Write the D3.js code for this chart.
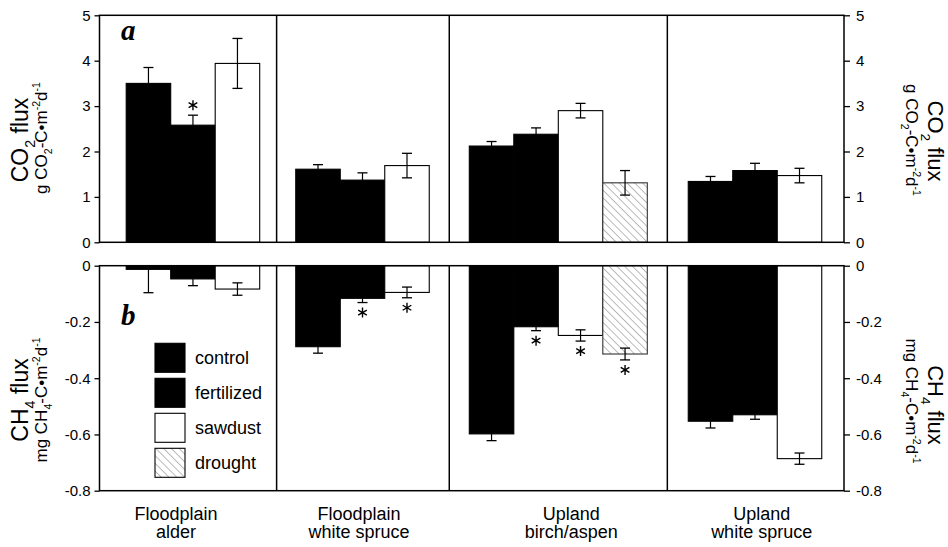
<!DOCTYPE html>
<html>
<head>
<meta charset="utf-8">
<script src="https://cdn.jsdelivr.net/npm/d3@7/dist/d3.min.js"></script>
<style>
  body { margin: 0; background: #fff; }
  svg { display: block; font-family: "Liberation Sans", Arial, sans-serif; }
</style>
</head>
<body>
<svg id="chart"></svg>
<script>
// sites along the x axis
const siteLine1 = ["Floodplain", "Floodplain", "Upland", "Upland"];
const siteLine2 = ["alder", "white spruce", "birch/aspen", "white spruce"];
const treatments = ["control", "fertilized", "sawdust", "drought"];

// panel a: CO2 flux (g CO2-C m-2 d-1), one value per site
const co2Control = [3.50, 1.61, 2.12, 1.34];
const co2ControlSE = [0.35, 0.10, 0.10, 0.11];
const co2Fertilized = [2.58, 1.37, 2.38, 1.58];
const co2FertilizedSE = [0.22, 0.16, 0.14, 0.16];
const co2Sawdust = [3.94, 1.69, 2.90, 1.47];
const co2SawdustSE = [0.55, 0.27, 0.16, 0.16];
const co2Drought = [null, null, 1.31, null];
const co2DroughtSE = [null, null, 0.27, null];

// panel b: CH4 flux (mg CH4-C m-2 d-1)
const ch4Control = [-0.013, -0.288, -0.598, -0.553];
const ch4ControlSE = [0.083, 0.023, 0.024, 0.024];
const ch4Fertilized = [-0.047, -0.116, -0.217, -0.530];
const ch4FertilizedSE = [0.024, 0.015, 0.014, 0.016];
const ch4Sawdust = [-0.083, -0.095, -0.248, -0.686];
const ch4SawdustSE = [0.022, 0.019, 0.020, 0.020];
const ch4Drought = [null, null, -0.314, null];
const ch4DroughtSE = [null, null, 0.021, null];

// significant differences from control (asterisks)
const co2SigFertilized = [1, 0, 0, 0];
const ch4SigFertilized = [0, 1, 1, 0];
const ch4SigSawdust = [0, 1, 1, 0];
const ch4SigDrought = [0, 0, 1, 0];

const co2Ticks = [0, 1, 2, 3, 4, 5];
const ch4Ticks = [0, -0.2, -0.4, -0.6, -0.8];

const co2Mean = [co2Control, co2Fertilized, co2Sawdust, co2Drought];
const co2SE = [co2ControlSE, co2FertilizedSE, co2SawdustSE, co2DroughtSE];
const ch4Mean = [ch4Control, ch4Fertilized, ch4Sawdust, ch4Drought];
const ch4SE = [ch4ControlSE, ch4FertilizedSE, ch4SawdustSE, ch4DroughtSE];
const co2Sig = [[0, 0, 0, 0], co2SigFertilized, [0, 0, 0, 0], [0, 0, 0, 0]];
const ch4Sig = [[0, 0, 0, 0], ch4SigFertilized, ch4SigSawdust, ch4SigDrought];

// layout
const width = 948, height = 547;
const left = 99.5, right = 844;
const topY = [15.3, 242.3], botY = [265.7, 490.7];
const padL = [0.6, 0.43, 0.45, 0.47];
const padR = [0.38, 0.45, 0.45, 0.5];
const labelShift = [-12, -4, 13, 6];
const font = 15;
const fills = ["#000", "#000", "#fff", "url(#hatch)"];

const svg = d3.select('#chart')
  .attr('width', width)
  .attr('height', height);

svg.append('defs')
  .append('pattern')
  .attr('id', 'hatch')
  .attr('patternUnits', 'userSpaceOnUse')
  .attr('width', 5.5)
  .attr('height', 5.5)
  .attr('patternTransform', 'rotate(-45)')
  .call(p => {
    p.append('rect').attr('width', 5.5).attr('height', 5.5).attr('fill', '#fff');
    p.append('line').attr('x1', 0).attr('y1', 0).attr('x2', 0).attr('y2', 5.5)
      .attr('stroke', '#555').attr('stroke-width', 0.8);
  });

// build bars, slot units per site
const bars = [];
const groupStart = [];
let unit = 0;
siteLine1.forEach((_, i) => {
  groupStart.push(unit);
  let slot = 0;
  treatments.forEach((t, k) => {
    if (co2Mean[k][i] == null) return;
    bars.push({
      site: i, t: k, u: unit + padL[i] + slot,
      co2: co2Mean[k][i], co2se: co2SE[k][i], co2sig: co2Sig[k][i],
      ch4: ch4Mean[k][i], ch4se: ch4SE[k][i], ch4sig: ch4Sig[k][i]
    });
    slot++;
  });
  unit += padL[i] + slot + padR[i];
});
groupStart.push(unit);

const x = d3.scaleLinear().domain([0, unit]).range([left, right]);
const yCO2 = d3.scaleLinear().domain([0, 5]).range([topY[1], topY[0]]);
const yCH4 = d3.scaleLinear().domain([0, -0.8]).range([botY[0], botY[1]]);
const bw = x(1) - x(0);

function panel(key, y, y0, y1, ticks, fmt) {
  const g = svg.append('g');

  // bars
  g.selectAll('rect.bar')
    .data(bars)
    .enter()
    .append('rect')
    .attr('class', 'bar')
    .attr('x', d => x(d.u))
    .attr('width', bw)
    .attr('y', d => Math.min(y(0), y(d[key])))
    .attr('height', d => Math.abs(y(d[key]) - y(0)))
    .attr('fill', d => fills[d.t])
    .attr('stroke', d => d.t === 3 ? '#333' : '#000')
    .attr('stroke-width', 1.1);

  // error bars: outward only on dark bars, both ways on open bars
  bars.forEach(d => {
    const v = d[key], se = d[key + 'se'];
    const dir = Math.sign(v);
    const cx = x(d.u + 0.5);
    const outer = y(v + dir * se);
    const inner = d.t < 2 ? y(v) : y(v - dir * se);
    g.append('line').attr('x1', cx).attr('x2', cx).attr('y1', inner).attr('y2', outer)
      .attr('stroke', '#000').attr('stroke-width', 1.2);
    g.append('line').attr('x1', cx - 5).attr('x2', cx + 5).attr('y1', outer).attr('y2', outer)
      .attr('stroke', '#000').attr('stroke-width', 1.3);
    if (d.t >= 2) {
      g.append('line').attr('x1', cx - 5).attr('x2', cx + 5).attr('y1', inner).attr('y2', inner)
        .attr('stroke', '#000').attr('stroke-width', 1.3);
    }
    if (d[key + 'sig']) {
      g.append('path')
        .attr('d', d3.symbol(d3.symbolAsterisk, 70)())
        .attr('transform', `translate(${cx},${outer - (dir > 0 ? 1 : -1) * 10})`)
        .attr('fill', 'none')
        .attr('stroke', '#000')
        .attr('stroke-width', 1.4);
    }
  });

  // frame and site dividers
  g.append('rect')
    .attr('x', left).attr('y', y0)
    .attr('width', right - left).attr('height', y1 - y0)
    .attr('fill', 'none').attr('stroke', '#000').attr('stroke-width', 1.5);
  g.selectAll('line.div')
    .data(groupStart.slice(1, -1))
    .enter()
    .append('line')
    .attr('class', 'div')
    .attr('x1', d => x(d)).attr('x2', d => x(d))
    .attr('y1', y0).attr('y2', y1)
    .attr('stroke', '#000').attr('stroke-width', 1.5);

  // axes on both sides
  const axL = g.append('g').attr('transform', `translate(${left},0)`)
    .call(d3.axisLeft(y).tickValues(ticks).tickFormat(fmt).tickSize(5).tickPadding(4));
  const axR = g.append('g').attr('transform', `translate(${right},0)`)
    .call(d3.axisRight(y).tickValues(ticks).tickFormat(fmt).tickSize(6).tickPadding(6));
  [axL, axR].forEach(a => {
    a.select('.domain').remove();
    a.selectAll('line').attr('stroke-width', 1.3);
    a.selectAll('text').attr('font-size', font).attr('fill', '#000')
      .attr('font-family', '"Liberation Sans", Arial, sans-serif');
  });
}

panel('co2', yCO2, topY[0], topY[1], co2Ticks, d3.format('d'));
panel('ch4', yCH4, botY[0], botY[1], ch4Ticks, d => d === 0 ? '0' : d.toFixed(1));

// rotated axis titles with sub/superscripts
function title(tx, ty, angle, size, parts) {
  const t = svg.append('text')
    .attr('transform', `translate(${tx},${ty}) rotate(${angle})`)
    .attr('text-anchor', 'middle')
    .attr('font-size', size)
    .attr('fill', '#000');
  let shift = 0;
  parts.forEach(p => {
    const s = p[1] === 'sub' ? size * 0.3 : p[1] === 'sup' ? -size * 0.4 : 0;
    const ts = t.append('tspan').text(p[0]).attr('dy', s - shift);
    if (p[1]) ts.attr('font-size', size * 0.62);
    shift = s;
  });
}
const co2Line1 = [['CO'], ['2', 'sub'], [' flux']];
const co2Line2 = [['g CO'], ['2', 'sub'], ['-C\u2022m'], ['-2', 'sup'], ['d'], ['-1', 'sup']];
const ch4Line1 = [['CH'], ['4', 'sub'], [' flux']];
const ch4Line2 = [['mg CH'], ['4', 'sub'], ['-C\u2022m'], ['-2', 'sup'], ['d'], ['-1', 'sup']];

title(28, 140, -90, 23, co2Line1);
title(46.5, 138, -90, 17, co2Line2);
title(28, 400, -90, 23, ch4Line1);
title(46.5, 400, -90, 17, ch4Line2);
title(928, 141, 90, 22, co2Line1);
title(906, 140, 90, 17, co2Line2);
title(928, 405, 90, 22, ch4Line1);
title(906, 401, 90, 17, ch4Line2);

// panel letters
[['a', 40], ['b', 325]].forEach(([s, by]) => {
  svg.append('text')
    .attr('x', 121).attr('y', by)
    .attr('font-family', '"Liberation Serif", "Times New Roman", serif')
    .attr('font-style', 'italic').attr('font-weight', 'bold')
    .attr('font-size', 29)
    .text(s);
});

// site labels
const labels = svg.append('g')
  .attr('font-size', 18)
  .attr('text-anchor', 'middle');
siteLine1.forEach((s, i) => {
  const cx = (x(groupStart[i]) + x(groupStart[i + 1])) / 2 + labelShift[i];
  labels.append('text').attr('x', cx).attr('y', 519.5).text(s);
  labels.append('text').attr('x', cx).attr('y', 538).text(siteLine2[i]);
});

// legend
const legend = svg.append('g')
  .attr('class', 'legend')
  .attr('transform', 'translate(155, 343.3)');
legend.selectAll('g')
  .data(treatments)
  .enter()
  .append('g')
  .attr('transform', (_, i) => `translate(0, ${i * 35})`)
  .each(function (d, i) {
    const g = d3.select(this);
    g.append('rect')
      .attr('width', 30)
      .attr('height', 29)
      .attr('fill', fills[i])
      .attr('stroke', '#000')
      .attr('stroke-width', 1.1);
    g.append('text')
      .attr('x', 40)
      .attr('y', 14.5)
      .attr('dy', '0.35em')
      .attr('font-size', 18)
      .text(d);
  });
</script>
</body>
</html>
